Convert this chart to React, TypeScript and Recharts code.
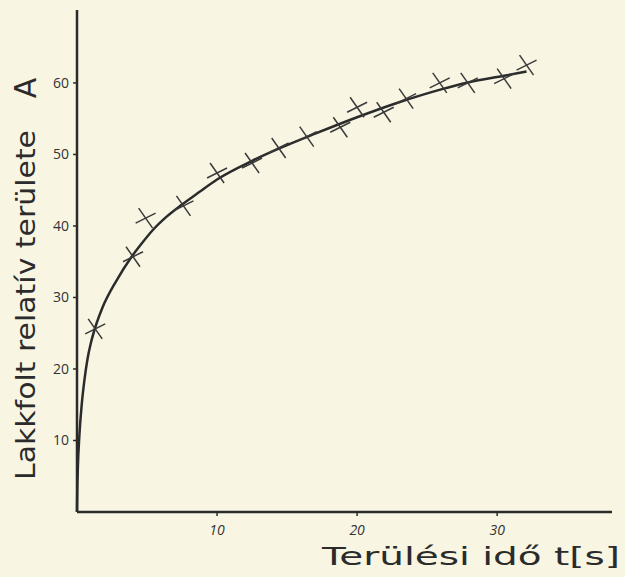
import {
  ComposedChart,
  Line,
  Scatter,
  XAxis,
  YAxis,
} from "recharts";

// measured crosses (time t [s], relative area A)
const measT = [1.3, 4.0, 4.9, 7.6, 10.0, 12.5, 14.4, 16.4, 18.8, 20.0, 21.9, 23.5, 25.9, 27.9, 30.5, 32.1];
const measA = [25.6, 35.7, 41.1, 42.8, 47.4, 48.8, 50.9, 52.5, 53.8, 56.6, 55.9, 57.8, 60.0, 60.0, 60.6, 62.5];

// hand-drawn fitted curve
const curveT = [0, 0.02, 0.06, 0.17, 0.35, 0.52, 0.75, 1.0, 1.4, 1.8, 2.8, 3.9, 4.6, 5.4, 6.4, 7.5, 8.7, 10, 12.5, 14.4, 17, 20, 23, 26, 28, 30.5, 32.1];
const curveA = [0, 3.0, 6.1, 10.7, 15.3, 18.3, 21.4, 23.7, 26.4, 28.5, 32.3, 35.7, 37.5, 39.4, 41.3, 43.0, 44.7, 46.5, 49.1, 50.8, 52.9, 55.2, 57.3, 59.1, 60.1, 61.0, 61.6];

const xTicks = [10, 20, 30];
const yTicks = [10, 20, 30, 40, 50, 60];

const measured = measT.map((t, i) => ({ t, a: measA[i] }));
const curve = curveT.map((t, i) => ({ t, a: curveA[i] }));

const ink = "#2b2b2b";
const font = "'Open Sans', 'DejaVu Sans', sans-serif";
const titleFont = "'DejaVu Sans', sans-serif";

function Cross(props: any) {
  const { cx, cy } = props;
  return (
    <g stroke="#3a3a3a" strokeWidth={1.5}>
      <line x1={cx - 7} y1={cy - 10} x2={cx + 7} y2={cy + 10} />
      <line x1={cx - 10} y1={cy + 5} x2={cx + 10} y2={cy - 5} />
    </g>
  );
}

function YTitle() {
  return (
    <g fill={ink} fontFamily={titleFont}>
      <text
        x={26}
        y={305}
        transform="rotate(-90, 26, 305)"
        textAnchor="middle"
        dominantBaseline="central"
        fontSize={26}
        textLength={350}
        lengthAdjust="spacingAndGlyphs"
      >
        Lakkfolt relatív területe
      </text>
      <text
        x={25}
        y={88}
        transform="rotate(-90, 25, 88)"
        textAnchor="middle"
        dominantBaseline="central"
        fontSize={30}
      >
        A
      </text>
    </g>
  );
}

function XTitle() {
  return (
    <text
      x={471}
      y={565}
      textAnchor="middle"
      fill={ink}
      fontFamily={titleFont}
      fontSize={25}
      textLength={298}
      lengthAdjust="spacingAndGlyphs"
    >
      Terülési idő t[s]
    </text>
  );
}

export default function App() {
  return (
    <div
      style={{
        position: "absolute",
        left: 0,
        top: 0,
        width: 625,
        height: 577,
        background: "#f8f6e3",
      }}
    >
      <ComposedChart
        width={625}
        height={577}
        margin={{ top: 10, right: 13, bottom: 25, left: 27 }}
      >
        <XAxis
          type="number"
          dataKey="t"
          domain={[0, 38.2]}
          ticks={xTicks}
          height={40}
          axisLine={{ stroke: ink, strokeWidth: 2.5 }}
          tickLine={{ stroke: ink, strokeWidth: 1.5 }}
          tickSize={4}
          tickMargin={9}
          tick={{ fill: "#333", fontSize: 14, fontFamily: font, fontStyle: "italic" }}
          label={<XTitle />}
        />
        <YAxis
          type="number"
          dataKey="a"
          domain={[0, 70.2]}
          ticks={yTicks}
          width={50}
          axisLine={{ stroke: ink, strokeWidth: 2.5 }}
          tickLine={{ stroke: ink, strokeWidth: 1.5 }}
          tickSize={4}
          tickMargin={4}
          tick={{ fill: "#333", fontSize: 14, fontFamily: font }}
          label={<YTitle />}
        />
        <Line
          data={curve}
          dataKey="a"
          type="monotone"
          stroke={ink}
          strokeWidth={2.5}
          dot={false}
          isAnimationActive={false}
        />
        <Scatter
          data={measured}
          dataKey="a"
          shape={<Cross />}
          isAnimationActive={false}
        />
      </ComposedChart>
    </div>
  );
}
